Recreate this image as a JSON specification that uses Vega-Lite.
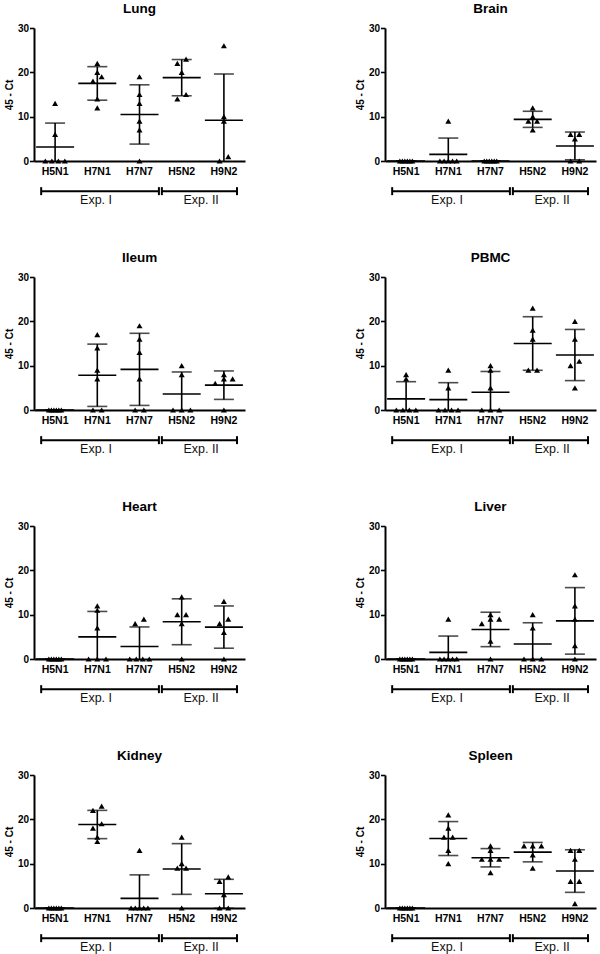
{
"$schema": "https://vega.github.io/schema/vega-lite/v6.json",
"padding": {"left": 4, "top": 1, "right": 5, "bottom": 5},
"datasets": {
"pts": [
{"organ":"Lung","strain":"H5N1","v":0},{"organ":"Lung","strain":"H5N1","v":0},{"organ":"Lung","strain":"H5N1","v":0},{"organ":"Lung","strain":"H5N1","v":0},{"organ":"Lung","strain":"H5N1","v":6},{"organ":"Lung","strain":"H5N1","v":13},
{"organ":"Lung","strain":"H7N1","v":22},{"organ":"Lung","strain":"H7N1","v":20},{"organ":"Lung","strain":"H7N1","v":19},{"organ":"Lung","strain":"H7N1","v":18},{"organ":"Lung","strain":"H7N1","v":14},{"organ":"Lung","strain":"H7N1","v":12},
{"organ":"Lung","strain":"H7N7","v":19},{"organ":"Lung","strain":"H7N7","v":15},{"organ":"Lung","strain":"H7N7","v":13},{"organ":"Lung","strain":"H7N7","v":9},{"organ":"Lung","strain":"H7N7","v":7},{"organ":"Lung","strain":"H7N7","v":0},
{"organ":"Lung","strain":"H5N2","v":23},{"organ":"Lung","strain":"H5N2","v":22},{"organ":"Lung","strain":"H5N2","v":20},{"organ":"Lung","strain":"H5N2","v":15},{"organ":"Lung","strain":"H5N2","v":14},
{"organ":"Lung","strain":"H9N2","v":26},{"organ":"Lung","strain":"H9N2","v":10},{"organ":"Lung","strain":"H9N2","v":9},{"organ":"Lung","strain":"H9N2","v":1},{"organ":"Lung","strain":"H9N2","v":0},
{"organ":"Brain","strain":"H5N1","v":0},{"organ":"Brain","strain":"H5N1","v":0},{"organ":"Brain","strain":"H5N1","v":0},{"organ":"Brain","strain":"H5N1","v":0},{"organ":"Brain","strain":"H5N1","v":0},{"organ":"Brain","strain":"H5N1","v":0},
{"organ":"Brain","strain":"H7N1","v":9},{"organ":"Brain","strain":"H7N1","v":0},{"organ":"Brain","strain":"H7N1","v":0},{"organ":"Brain","strain":"H7N1","v":0},{"organ":"Brain","strain":"H7N1","v":0},{"organ":"Brain","strain":"H7N1","v":0},
{"organ":"Brain","strain":"H7N7","v":0},{"organ":"Brain","strain":"H7N7","v":0},{"organ":"Brain","strain":"H7N7","v":0},{"organ":"Brain","strain":"H7N7","v":0},{"organ":"Brain","strain":"H7N7","v":0},{"organ":"Brain","strain":"H7N7","v":0},
{"organ":"Brain","strain":"H5N2","v":12},{"organ":"Brain","strain":"H5N2","v":10},{"organ":"Brain","strain":"H5N2","v":9},{"organ":"Brain","strain":"H5N2","v":9},{"organ":"Brain","strain":"H5N2","v":7},
{"organ":"Brain","strain":"H9N2","v":6},{"organ":"Brain","strain":"H9N2","v":6},{"organ":"Brain","strain":"H9N2","v":5},{"organ":"Brain","strain":"H9N2","v":0},{"organ":"Brain","strain":"H9N2","v":0},
{"organ":"Ileum","strain":"H5N1","v":0},{"organ":"Ileum","strain":"H5N1","v":0},{"organ":"Ileum","strain":"H5N1","v":0},{"organ":"Ileum","strain":"H5N1","v":0},{"organ":"Ileum","strain":"H5N1","v":0},{"organ":"Ileum","strain":"H5N1","v":0},
{"organ":"Ileum","strain":"H7N1","v":17},{"organ":"Ileum","strain":"H7N1","v":14},{"organ":"Ileum","strain":"H7N1","v":9},{"organ":"Ileum","strain":"H7N1","v":7},{"organ":"Ileum","strain":"H7N1","v":0},{"organ":"Ileum","strain":"H7N1","v":0},
{"organ":"Ileum","strain":"H7N7","v":19},{"organ":"Ileum","strain":"H7N7","v":16},{"organ":"Ileum","strain":"H7N7","v":13},{"organ":"Ileum","strain":"H7N7","v":7},{"organ":"Ileum","strain":"H7N7","v":0},{"organ":"Ileum","strain":"H7N7","v":0},
{"organ":"Ileum","strain":"H5N2","v":10},{"organ":"Ileum","strain":"H5N2","v":8},{"organ":"Ileum","strain":"H5N2","v":0},{"organ":"Ileum","strain":"H5N2","v":0},{"organ":"Ileum","strain":"H5N2","v":0},
{"organ":"Ileum","strain":"H9N2","v":8},{"organ":"Ileum","strain":"H9N2","v":7},{"organ":"Ileum","strain":"H9N2","v":7},{"organ":"Ileum","strain":"H9N2","v":6},{"organ":"Ileum","strain":"H9N2","v":0},
{"organ":"PBMC","strain":"H5N1","v":8},{"organ":"PBMC","strain":"H5N1","v":7},{"organ":"PBMC","strain":"H5N1","v":0},{"organ":"PBMC","strain":"H5N1","v":0},{"organ":"PBMC","strain":"H5N1","v":0},{"organ":"PBMC","strain":"H5N1","v":0},
{"organ":"PBMC","strain":"H7N1","v":9},{"organ":"PBMC","strain":"H7N1","v":5},{"organ":"PBMC","strain":"H7N1","v":0},{"organ":"PBMC","strain":"H7N1","v":0},{"organ":"PBMC","strain":"H7N1","v":0},{"organ":"PBMC","strain":"H7N1","v":0},
{"organ":"PBMC","strain":"H7N7","v":10},{"organ":"PBMC","strain":"H7N7","v":9},{"organ":"PBMC","strain":"H7N7","v":5},{"organ":"PBMC","strain":"H7N7","v":0},{"organ":"PBMC","strain":"H7N7","v":0},{"organ":"PBMC","strain":"H7N7","v":0},
{"organ":"PBMC","strain":"H5N2","v":23},{"organ":"PBMC","strain":"H5N2","v":18},{"organ":"PBMC","strain":"H5N2","v":16},{"organ":"PBMC","strain":"H5N2","v":9},{"organ":"PBMC","strain":"H5N2","v":9},
{"organ":"PBMC","strain":"H9N2","v":20},{"organ":"PBMC","strain":"H9N2","v":16},{"organ":"PBMC","strain":"H9N2","v":11},{"organ":"PBMC","strain":"H9N2","v":10},{"organ":"PBMC","strain":"H9N2","v":5},
{"organ":"Heart","strain":"H5N1","v":0},{"organ":"Heart","strain":"H5N1","v":0},{"organ":"Heart","strain":"H5N1","v":0},{"organ":"Heart","strain":"H5N1","v":0},{"organ":"Heart","strain":"H5N1","v":0},{"organ":"Heart","strain":"H5N1","v":0},
{"organ":"Heart","strain":"H7N1","v":12},{"organ":"Heart","strain":"H7N1","v":11},{"organ":"Heart","strain":"H7N1","v":7},{"organ":"Heart","strain":"H7N1","v":0},{"organ":"Heart","strain":"H7N1","v":0},{"organ":"Heart","strain":"H7N1","v":0},
{"organ":"Heart","strain":"H7N7","v":9},{"organ":"Heart","strain":"H7N7","v":8},{"organ":"Heart","strain":"H7N7","v":0},{"organ":"Heart","strain":"H7N7","v":0},{"organ":"Heart","strain":"H7N7","v":0},{"organ":"Heart","strain":"H7N7","v":0},
{"organ":"Heart","strain":"H5N2","v":14},{"organ":"Heart","strain":"H5N2","v":10},{"organ":"Heart","strain":"H5N2","v":10},{"organ":"Heart","strain":"H5N2","v":8},{"organ":"Heart","strain":"H5N2","v":0},
{"organ":"Heart","strain":"H9N2","v":13},{"organ":"Heart","strain":"H9N2","v":9},{"organ":"Heart","strain":"H9N2","v":8},{"organ":"Heart","strain":"H9N2","v":6},{"organ":"Heart","strain":"H9N2","v":0},
{"organ":"Liver","strain":"H5N1","v":0},{"organ":"Liver","strain":"H5N1","v":0},{"organ":"Liver","strain":"H5N1","v":0},{"organ":"Liver","strain":"H5N1","v":0},{"organ":"Liver","strain":"H5N1","v":0},{"organ":"Liver","strain":"H5N1","v":0},
{"organ":"Liver","strain":"H7N1","v":9},{"organ":"Liver","strain":"H7N1","v":0},{"organ":"Liver","strain":"H7N1","v":0},{"organ":"Liver","strain":"H7N1","v":0},{"organ":"Liver","strain":"H7N1","v":0},{"organ":"Liver","strain":"H7N1","v":0},
{"organ":"Liver","strain":"H7N7","v":10},{"organ":"Liver","strain":"H7N7","v":9},{"organ":"Liver","strain":"H7N7","v":9},{"organ":"Liver","strain":"H7N7","v":8},{"organ":"Liver","strain":"H7N7","v":4},{"organ":"Liver","strain":"H7N7","v":0},
{"organ":"Liver","strain":"H5N2","v":10},{"organ":"Liver","strain":"H5N2","v":7},{"organ":"Liver","strain":"H5N2","v":0},{"organ":"Liver","strain":"H5N2","v":0},{"organ":"Liver","strain":"H5N2","v":0},
{"organ":"Liver","strain":"H9N2","v":19},{"organ":"Liver","strain":"H9N2","v":12},{"organ":"Liver","strain":"H9N2","v":9},{"organ":"Liver","strain":"H9N2","v":3},{"organ":"Liver","strain":"H9N2","v":0},
{"organ":"Kidney","strain":"H5N1","v":0},{"organ":"Kidney","strain":"H5N1","v":0},{"organ":"Kidney","strain":"H5N1","v":0},{"organ":"Kidney","strain":"H5N1","v":0},{"organ":"Kidney","strain":"H5N1","v":0},{"organ":"Kidney","strain":"H5N1","v":0},
{"organ":"Kidney","strain":"H7N1","v":23},{"organ":"Kidney","strain":"H7N1","v":22},{"organ":"Kidney","strain":"H7N1","v":19},{"organ":"Kidney","strain":"H7N1","v":18},{"organ":"Kidney","strain":"H7N1","v":16},{"organ":"Kidney","strain":"H7N1","v":15},
{"organ":"Kidney","strain":"H7N7","v":13},{"organ":"Kidney","strain":"H7N7","v":0},{"organ":"Kidney","strain":"H7N7","v":0},{"organ":"Kidney","strain":"H7N7","v":0},{"organ":"Kidney","strain":"H7N7","v":0},{"organ":"Kidney","strain":"H7N7","v":0},
{"organ":"Kidney","strain":"H5N2","v":16},{"organ":"Kidney","strain":"H5N2","v":10},{"organ":"Kidney","strain":"H5N2","v":9},{"organ":"Kidney","strain":"H5N2","v":9},{"organ":"Kidney","strain":"H5N2","v":0},
{"organ":"Kidney","strain":"H9N2","v":7},{"organ":"Kidney","strain":"H9N2","v":6},{"organ":"Kidney","strain":"H9N2","v":3},{"organ":"Kidney","strain":"H9N2","v":0},{"organ":"Kidney","strain":"H9N2","v":0},
{"organ":"Spleen","strain":"H5N1","v":0},{"organ":"Spleen","strain":"H5N1","v":0},{"organ":"Spleen","strain":"H5N1","v":0},{"organ":"Spleen","strain":"H5N1","v":0},{"organ":"Spleen","strain":"H5N1","v":0},{"organ":"Spleen","strain":"H5N1","v":0},
{"organ":"Spleen","strain":"H7N1","v":21},{"organ":"Spleen","strain":"H7N1","v":18},{"organ":"Spleen","strain":"H7N1","v":16},{"organ":"Spleen","strain":"H7N1","v":16},{"organ":"Spleen","strain":"H7N1","v":13},{"organ":"Spleen","strain":"H7N1","v":10},
{"organ":"Spleen","strain":"H7N7","v":14},{"organ":"Spleen","strain":"H7N7","v":13},{"organ":"Spleen","strain":"H7N7","v":11},{"organ":"Spleen","strain":"H7N7","v":11},{"organ":"Spleen","strain":"H7N7","v":11},{"organ":"Spleen","strain":"H7N7","v":8},
{"organ":"Spleen","strain":"H5N2","v":14},{"organ":"Spleen","strain":"H5N2","v":14},{"organ":"Spleen","strain":"H5N2","v":14},{"organ":"Spleen","strain":"H5N2","v":12},{"organ":"Spleen","strain":"H5N2","v":9},
{"organ":"Spleen","strain":"H9N2","v":13},{"organ":"Spleen","strain":"H9N2","v":13},{"organ":"Spleen","strain":"H9N2","v":11},{"organ":"Spleen","strain":"H9N2","v":6},{"organ":"Spleen","strain":"H9N2","v":6},{"organ":"Spleen","strain":"H9N2","v":1}
],
"brk": [
{"exp":"Exp. I","from":"H5N1","to":"H7N7","mid":"H7N1"},
{"exp":"Exp. II","from":"H5N2","to":"H9N2","mid":"H9N2"}
]
},
"data": {"name": "pts"},
"transform": [
{"bin": {"step": 2}, "field": "v", "as": ["vb", "vb_end"]},
{"window": [{"op": "row_number", "as": "r"}], "groupby": ["organ", "strain", "vb"], "sort": [{"field": "v", "order": "ascending"}]},
{"joinaggregate": [{"op": "count", "as": "n"}], "groupby": ["organ", "strain", "vb"]},
{"calculate": "(datum.r - (datum.n + 1) / 2) * (datum.n <= 3 ? 8.7 : datum.n == 4 ? 6.5 : datum.n == 5 ? 4.2 : 2.5)", "as": "dx"}
],
"columns": 2,
"spacing": {"row": 116, "column": 140},
"bounds": "flush",
"concat": [
{"title":"Lung","width":211,"height":133,"layer":[
{"transform":[{"filter":"datum.organ == 'Lung'"}],"layer":[
{"mark":{"type":"errorbar","extent":"stdev","ticks":{"size":20},"thickness":1.6,"color":"black","clip":true},"encoding":{"x":{"field":"strain","type":"nominal","scale":{"domain":["H5N1","H7N1","H7N7","H5N2","H9N2"],"paddingInner":0,"paddingOuter":0},"title":null},"y":{"field":"v","type":"quantitative","scale":{"domain":[0,30]},"title":"45 - Ct"}}},
{"mark":{"type":"tick","size":38,"thickness":1.6,"color":"black"},"encoding":{"x":{"field":"strain","type":"nominal","scale":{"domain":["H5N1","H7N1","H7N7","H5N2","H9N2"],"paddingInner":0,"paddingOuter":0},"title":null},"y":{"aggregate":"mean","field":"v","type":"quantitative","scale":{"domain":[0,30]},"title":"45 - Ct"}}},
{"mark":{"type":"point","shape":"triangle-up","filled":true,"size":36,"color":"black","opacity":1},"encoding":{"x":{"field":"strain","type":"nominal","scale":{"domain":["H5N1","H7N1","H7N7","H5N2","H9N2"],"paddingInner":0,"paddingOuter":0},"title":null},"xOffset":{"field":"dx","type":"quantitative","scale":{"domain":[-21.1,21.1],"range":[0,42.2]}},"y":{"field":"v","type":"quantitative","scale":{"domain":[0,30]},"title":"45 - Ct"}}}
]},
{"data":{"name":"brk"},"layer":[
{"transform":[{"filter":"datum.exp == 'Exp. I'"}],"layer":[
{"mark":"rule","encoding":{"x":{"field":"from","type":"nominal","bandPosition":0.17,"scale":{"domain":["H5N1","H7N1","H7N7","H5N2","H9N2"],"paddingInner":0,"paddingOuter":0},"title":null},"x2":{"field":"to","bandPosition":0.96},"y":{"datum":-6.8,"type":"quantitative","scale":{"domain":[0,30]},"title":"45 - Ct"}}},
{"mark":"rule","encoding":{"x":{"field":"from","type":"nominal","bandPosition":0.17,"scale":{"domain":["H5N1","H7N1","H7N7","H5N2","H9N2"],"paddingInner":0,"paddingOuter":0},"title":null},"y":{"datum":-5.9,"type":"quantitative","scale":{"domain":[0,30]},"title":"45 - Ct"},"y2":{"datum":-7.7}}},
{"mark":"rule","encoding":{"x":{"field":"to","type":"nominal","bandPosition":0.96,"scale":{"domain":["H5N1","H7N1","H7N7","H5N2","H9N2"],"paddingInner":0,"paddingOuter":0},"title":null},"y":{"datum":-5.9,"type":"quantitative","scale":{"domain":[0,30]},"title":"45 - Ct"},"y2":{"datum":-7.7}}},
{"mark":"text","encoding":{"x":{"field":"mid","type":"nominal","bandPosition":0.47,"scale":{"domain":["H5N1","H7N1","H7N7","H5N2","H9N2"],"paddingInner":0,"paddingOuter":0},"title":null},"y":{"datum":-8.7,"type":"quantitative","scale":{"domain":[0,30]},"title":"45 - Ct"},"text":{"field":"exp"}}}
]},
{"transform":[{"filter":"datum.exp == 'Exp. II'"}],"layer":[
{"mark":"rule","encoding":{"x":{"field":"from","type":"nominal","bandPosition":0.03,"scale":{"domain":["H5N1","H7N1","H7N7","H5N2","H9N2"],"paddingInner":0,"paddingOuter":0},"title":null},"x2":{"field":"to","bandPosition":0.81},"y":{"datum":-6.8,"type":"quantitative","scale":{"domain":[0,30]},"title":"45 - Ct"}}},
{"mark":"rule","encoding":{"x":{"field":"from","type":"nominal","bandPosition":0.03,"scale":{"domain":["H5N1","H7N1","H7N7","H5N2","H9N2"],"paddingInner":0,"paddingOuter":0},"title":null},"y":{"datum":-5.9,"type":"quantitative","scale":{"domain":[0,30]},"title":"45 - Ct"},"y2":{"datum":-7.7}}},
{"mark":"rule","encoding":{"x":{"field":"to","type":"nominal","bandPosition":0.81,"scale":{"domain":["H5N1","H7N1","H7N7","H5N2","H9N2"],"paddingInner":0,"paddingOuter":0},"title":null},"y":{"datum":-5.9,"type":"quantitative","scale":{"domain":[0,30]},"title":"45 - Ct"},"y2":{"datum":-7.7}}},
{"mark":"text","encoding":{"x":{"field":"mid","type":"nominal","bandPosition":-0.04,"scale":{"domain":["H5N1","H7N1","H7N7","H5N2","H9N2"],"paddingInner":0,"paddingOuter":0},"title":null},"y":{"datum":-8.7,"type":"quantitative","scale":{"domain":[0,30]},"title":"45 - Ct"},"text":{"field":"exp"}}}
]}
]}
]},
{"title":"Brain","width":211,"height":133,"layer":[
{"transform":[{"filter":"datum.organ == 'Brain'"}],"layer":[
{"mark":{"type":"errorbar","extent":"stdev","ticks":{"size":20},"thickness":1.6,"color":"black","clip":true},"encoding":{"x":{"field":"strain","type":"nominal","scale":{"domain":["H5N1","H7N1","H7N7","H5N2","H9N2"],"paddingInner":0,"paddingOuter":0},"title":null},"y":{"field":"v","type":"quantitative","scale":{"domain":[0,30]},"title":"45 - Ct"}}},
{"mark":{"type":"tick","size":38,"thickness":1.6,"color":"black"},"encoding":{"x":{"field":"strain","type":"nominal","scale":{"domain":["H5N1","H7N1","H7N7","H5N2","H9N2"],"paddingInner":0,"paddingOuter":0},"title":null},"y":{"aggregate":"mean","field":"v","type":"quantitative","scale":{"domain":[0,30]},"title":"45 - Ct"}}},
{"mark":{"type":"point","shape":"triangle-up","filled":true,"size":36,"color":"black","opacity":1},"encoding":{"x":{"field":"strain","type":"nominal","scale":{"domain":["H5N1","H7N1","H7N7","H5N2","H9N2"],"paddingInner":0,"paddingOuter":0},"title":null},"xOffset":{"field":"dx","type":"quantitative","scale":{"domain":[-21.1,21.1],"range":[0,42.2]}},"y":{"field":"v","type":"quantitative","scale":{"domain":[0,30]},"title":"45 - Ct"}}}
]},
{"data":{"name":"brk"},"layer":[
{"transform":[{"filter":"datum.exp == 'Exp. I'"}],"layer":[
{"mark":"rule","encoding":{"x":{"field":"from","type":"nominal","bandPosition":0.17,"scale":{"domain":["H5N1","H7N1","H7N7","H5N2","H9N2"],"paddingInner":0,"paddingOuter":0},"title":null},"x2":{"field":"to","bandPosition":0.96},"y":{"datum":-6.8,"type":"quantitative","scale":{"domain":[0,30]},"title":"45 - Ct"}}},
{"mark":"rule","encoding":{"x":{"field":"from","type":"nominal","bandPosition":0.17,"scale":{"domain":["H5N1","H7N1","H7N7","H5N2","H9N2"],"paddingInner":0,"paddingOuter":0},"title":null},"y":{"datum":-5.9,"type":"quantitative","scale":{"domain":[0,30]},"title":"45 - Ct"},"y2":{"datum":-7.7}}},
{"mark":"rule","encoding":{"x":{"field":"to","type":"nominal","bandPosition":0.96,"scale":{"domain":["H5N1","H7N1","H7N7","H5N2","H9N2"],"paddingInner":0,"paddingOuter":0},"title":null},"y":{"datum":-5.9,"type":"quantitative","scale":{"domain":[0,30]},"title":"45 - Ct"},"y2":{"datum":-7.7}}},
{"mark":"text","encoding":{"x":{"field":"mid","type":"nominal","bandPosition":0.47,"scale":{"domain":["H5N1","H7N1","H7N7","H5N2","H9N2"],"paddingInner":0,"paddingOuter":0},"title":null},"y":{"datum":-8.7,"type":"quantitative","scale":{"domain":[0,30]},"title":"45 - Ct"},"text":{"field":"exp"}}}
]},
{"transform":[{"filter":"datum.exp == 'Exp. II'"}],"layer":[
{"mark":"rule","encoding":{"x":{"field":"from","type":"nominal","bandPosition":0.03,"scale":{"domain":["H5N1","H7N1","H7N7","H5N2","H9N2"],"paddingInner":0,"paddingOuter":0},"title":null},"x2":{"field":"to","bandPosition":0.81},"y":{"datum":-6.8,"type":"quantitative","scale":{"domain":[0,30]},"title":"45 - Ct"}}},
{"mark":"rule","encoding":{"x":{"field":"from","type":"nominal","bandPosition":0.03,"scale":{"domain":["H5N1","H7N1","H7N7","H5N2","H9N2"],"paddingInner":0,"paddingOuter":0},"title":null},"y":{"datum":-5.9,"type":"quantitative","scale":{"domain":[0,30]},"title":"45 - Ct"},"y2":{"datum":-7.7}}},
{"mark":"rule","encoding":{"x":{"field":"to","type":"nominal","bandPosition":0.81,"scale":{"domain":["H5N1","H7N1","H7N7","H5N2","H9N2"],"paddingInner":0,"paddingOuter":0},"title":null},"y":{"datum":-5.9,"type":"quantitative","scale":{"domain":[0,30]},"title":"45 - Ct"},"y2":{"datum":-7.7}}},
{"mark":"text","encoding":{"x":{"field":"mid","type":"nominal","bandPosition":-0.04,"scale":{"domain":["H5N1","H7N1","H7N7","H5N2","H9N2"],"paddingInner":0,"paddingOuter":0},"title":null},"y":{"datum":-8.7,"type":"quantitative","scale":{"domain":[0,30]},"title":"45 - Ct"},"text":{"field":"exp"}}}
]}
]}
]},
{"title":"Ileum","width":211,"height":133,"layer":[
{"transform":[{"filter":"datum.organ == 'Ileum'"}],"layer":[
{"mark":{"type":"errorbar","extent":"stdev","ticks":{"size":20},"thickness":1.6,"color":"black","clip":true},"encoding":{"x":{"field":"strain","type":"nominal","scale":{"domain":["H5N1","H7N1","H7N7","H5N2","H9N2"],"paddingInner":0,"paddingOuter":0},"title":null},"y":{"field":"v","type":"quantitative","scale":{"domain":[0,30]},"title":"45 - Ct"}}},
{"mark":{"type":"tick","size":38,"thickness":1.6,"color":"black"},"encoding":{"x":{"field":"strain","type":"nominal","scale":{"domain":["H5N1","H7N1","H7N7","H5N2","H9N2"],"paddingInner":0,"paddingOuter":0},"title":null},"y":{"aggregate":"mean","field":"v","type":"quantitative","scale":{"domain":[0,30]},"title":"45 - Ct"}}},
{"mark":{"type":"point","shape":"triangle-up","filled":true,"size":36,"color":"black","opacity":1},"encoding":{"x":{"field":"strain","type":"nominal","scale":{"domain":["H5N1","H7N1","H7N7","H5N2","H9N2"],"paddingInner":0,"paddingOuter":0},"title":null},"xOffset":{"field":"dx","type":"quantitative","scale":{"domain":[-21.1,21.1],"range":[0,42.2]}},"y":{"field":"v","type":"quantitative","scale":{"domain":[0,30]},"title":"45 - Ct"}}}
]},
{"data":{"name":"brk"},"layer":[
{"transform":[{"filter":"datum.exp == 'Exp. I'"}],"layer":[
{"mark":"rule","encoding":{"x":{"field":"from","type":"nominal","bandPosition":0.17,"scale":{"domain":["H5N1","H7N1","H7N7","H5N2","H9N2"],"paddingInner":0,"paddingOuter":0},"title":null},"x2":{"field":"to","bandPosition":0.96},"y":{"datum":-6.8,"type":"quantitative","scale":{"domain":[0,30]},"title":"45 - Ct"}}},
{"mark":"rule","encoding":{"x":{"field":"from","type":"nominal","bandPosition":0.17,"scale":{"domain":["H5N1","H7N1","H7N7","H5N2","H9N2"],"paddingInner":0,"paddingOuter":0},"title":null},"y":{"datum":-5.9,"type":"quantitative","scale":{"domain":[0,30]},"title":"45 - Ct"},"y2":{"datum":-7.7}}},
{"mark":"rule","encoding":{"x":{"field":"to","type":"nominal","bandPosition":0.96,"scale":{"domain":["H5N1","H7N1","H7N7","H5N2","H9N2"],"paddingInner":0,"paddingOuter":0},"title":null},"y":{"datum":-5.9,"type":"quantitative","scale":{"domain":[0,30]},"title":"45 - Ct"},"y2":{"datum":-7.7}}},
{"mark":"text","encoding":{"x":{"field":"mid","type":"nominal","bandPosition":0.47,"scale":{"domain":["H5N1","H7N1","H7N7","H5N2","H9N2"],"paddingInner":0,"paddingOuter":0},"title":null},"y":{"datum":-8.7,"type":"quantitative","scale":{"domain":[0,30]},"title":"45 - Ct"},"text":{"field":"exp"}}}
]},
{"transform":[{"filter":"datum.exp == 'Exp. II'"}],"layer":[
{"mark":"rule","encoding":{"x":{"field":"from","type":"nominal","bandPosition":0.03,"scale":{"domain":["H5N1","H7N1","H7N7","H5N2","H9N2"],"paddingInner":0,"paddingOuter":0},"title":null},"x2":{"field":"to","bandPosition":0.81},"y":{"datum":-6.8,"type":"quantitative","scale":{"domain":[0,30]},"title":"45 - Ct"}}},
{"mark":"rule","encoding":{"x":{"field":"from","type":"nominal","bandPosition":0.03,"scale":{"domain":["H5N1","H7N1","H7N7","H5N2","H9N2"],"paddingInner":0,"paddingOuter":0},"title":null},"y":{"datum":-5.9,"type":"quantitative","scale":{"domain":[0,30]},"title":"45 - Ct"},"y2":{"datum":-7.7}}},
{"mark":"rule","encoding":{"x":{"field":"to","type":"nominal","bandPosition":0.81,"scale":{"domain":["H5N1","H7N1","H7N7","H5N2","H9N2"],"paddingInner":0,"paddingOuter":0},"title":null},"y":{"datum":-5.9,"type":"quantitative","scale":{"domain":[0,30]},"title":"45 - Ct"},"y2":{"datum":-7.7}}},
{"mark":"text","encoding":{"x":{"field":"mid","type":"nominal","bandPosition":-0.04,"scale":{"domain":["H5N1","H7N1","H7N7","H5N2","H9N2"],"paddingInner":0,"paddingOuter":0},"title":null},"y":{"datum":-8.7,"type":"quantitative","scale":{"domain":[0,30]},"title":"45 - Ct"},"text":{"field":"exp"}}}
]}
]}
]},
{"title":"PBMC","width":211,"height":133,"layer":[
{"transform":[{"filter":"datum.organ == 'PBMC'"}],"layer":[
{"mark":{"type":"errorbar","extent":"stdev","ticks":{"size":20},"thickness":1.6,"color":"black","clip":true},"encoding":{"x":{"field":"strain","type":"nominal","scale":{"domain":["H5N1","H7N1","H7N7","H5N2","H9N2"],"paddingInner":0,"paddingOuter":0},"title":null},"y":{"field":"v","type":"quantitative","scale":{"domain":[0,30]},"title":"45 - Ct"}}},
{"mark":{"type":"tick","size":38,"thickness":1.6,"color":"black"},"encoding":{"x":{"field":"strain","type":"nominal","scale":{"domain":["H5N1","H7N1","H7N7","H5N2","H9N2"],"paddingInner":0,"paddingOuter":0},"title":null},"y":{"aggregate":"mean","field":"v","type":"quantitative","scale":{"domain":[0,30]},"title":"45 - Ct"}}},
{"mark":{"type":"point","shape":"triangle-up","filled":true,"size":36,"color":"black","opacity":1},"encoding":{"x":{"field":"strain","type":"nominal","scale":{"domain":["H5N1","H7N1","H7N7","H5N2","H9N2"],"paddingInner":0,"paddingOuter":0},"title":null},"xOffset":{"field":"dx","type":"quantitative","scale":{"domain":[-21.1,21.1],"range":[0,42.2]}},"y":{"field":"v","type":"quantitative","scale":{"domain":[0,30]},"title":"45 - Ct"}}}
]},
{"data":{"name":"brk"},"layer":[
{"transform":[{"filter":"datum.exp == 'Exp. I'"}],"layer":[
{"mark":"rule","encoding":{"x":{"field":"from","type":"nominal","bandPosition":0.17,"scale":{"domain":["H5N1","H7N1","H7N7","H5N2","H9N2"],"paddingInner":0,"paddingOuter":0},"title":null},"x2":{"field":"to","bandPosition":0.96},"y":{"datum":-6.8,"type":"quantitative","scale":{"domain":[0,30]},"title":"45 - Ct"}}},
{"mark":"rule","encoding":{"x":{"field":"from","type":"nominal","bandPosition":0.17,"scale":{"domain":["H5N1","H7N1","H7N7","H5N2","H9N2"],"paddingInner":0,"paddingOuter":0},"title":null},"y":{"datum":-5.9,"type":"quantitative","scale":{"domain":[0,30]},"title":"45 - Ct"},"y2":{"datum":-7.7}}},
{"mark":"rule","encoding":{"x":{"field":"to","type":"nominal","bandPosition":0.96,"scale":{"domain":["H5N1","H7N1","H7N7","H5N2","H9N2"],"paddingInner":0,"paddingOuter":0},"title":null},"y":{"datum":-5.9,"type":"quantitative","scale":{"domain":[0,30]},"title":"45 - Ct"},"y2":{"datum":-7.7}}},
{"mark":"text","encoding":{"x":{"field":"mid","type":"nominal","bandPosition":0.47,"scale":{"domain":["H5N1","H7N1","H7N7","H5N2","H9N2"],"paddingInner":0,"paddingOuter":0},"title":null},"y":{"datum":-8.7,"type":"quantitative","scale":{"domain":[0,30]},"title":"45 - Ct"},"text":{"field":"exp"}}}
]},
{"transform":[{"filter":"datum.exp == 'Exp. II'"}],"layer":[
{"mark":"rule","encoding":{"x":{"field":"from","type":"nominal","bandPosition":0.03,"scale":{"domain":["H5N1","H7N1","H7N7","H5N2","H9N2"],"paddingInner":0,"paddingOuter":0},"title":null},"x2":{"field":"to","bandPosition":0.81},"y":{"datum":-6.8,"type":"quantitative","scale":{"domain":[0,30]},"title":"45 - Ct"}}},
{"mark":"rule","encoding":{"x":{"field":"from","type":"nominal","bandPosition":0.03,"scale":{"domain":["H5N1","H7N1","H7N7","H5N2","H9N2"],"paddingInner":0,"paddingOuter":0},"title":null},"y":{"datum":-5.9,"type":"quantitative","scale":{"domain":[0,30]},"title":"45 - Ct"},"y2":{"datum":-7.7}}},
{"mark":"rule","encoding":{"x":{"field":"to","type":"nominal","bandPosition":0.81,"scale":{"domain":["H5N1","H7N1","H7N7","H5N2","H9N2"],"paddingInner":0,"paddingOuter":0},"title":null},"y":{"datum":-5.9,"type":"quantitative","scale":{"domain":[0,30]},"title":"45 - Ct"},"y2":{"datum":-7.7}}},
{"mark":"text","encoding":{"x":{"field":"mid","type":"nominal","bandPosition":-0.04,"scale":{"domain":["H5N1","H7N1","H7N7","H5N2","H9N2"],"paddingInner":0,"paddingOuter":0},"title":null},"y":{"datum":-8.7,"type":"quantitative","scale":{"domain":[0,30]},"title":"45 - Ct"},"text":{"field":"exp"}}}
]}
]}
]},
{"title":"Heart","width":211,"height":133,"layer":[
{"transform":[{"filter":"datum.organ == 'Heart'"}],"layer":[
{"mark":{"type":"errorbar","extent":"stdev","ticks":{"size":20},"thickness":1.6,"color":"black","clip":true},"encoding":{"x":{"field":"strain","type":"nominal","scale":{"domain":["H5N1","H7N1","H7N7","H5N2","H9N2"],"paddingInner":0,"paddingOuter":0},"title":null},"y":{"field":"v","type":"quantitative","scale":{"domain":[0,30]},"title":"45 - Ct"}}},
{"mark":{"type":"tick","size":38,"thickness":1.6,"color":"black"},"encoding":{"x":{"field":"strain","type":"nominal","scale":{"domain":["H5N1","H7N1","H7N7","H5N2","H9N2"],"paddingInner":0,"paddingOuter":0},"title":null},"y":{"aggregate":"mean","field":"v","type":"quantitative","scale":{"domain":[0,30]},"title":"45 - Ct"}}},
{"mark":{"type":"point","shape":"triangle-up","filled":true,"size":36,"color":"black","opacity":1},"encoding":{"x":{"field":"strain","type":"nominal","scale":{"domain":["H5N1","H7N1","H7N7","H5N2","H9N2"],"paddingInner":0,"paddingOuter":0},"title":null},"xOffset":{"field":"dx","type":"quantitative","scale":{"domain":[-21.1,21.1],"range":[0,42.2]}},"y":{"field":"v","type":"quantitative","scale":{"domain":[0,30]},"title":"45 - Ct"}}}
]},
{"data":{"name":"brk"},"layer":[
{"transform":[{"filter":"datum.exp == 'Exp. I'"}],"layer":[
{"mark":"rule","encoding":{"x":{"field":"from","type":"nominal","bandPosition":0.17,"scale":{"domain":["H5N1","H7N1","H7N7","H5N2","H9N2"],"paddingInner":0,"paddingOuter":0},"title":null},"x2":{"field":"to","bandPosition":0.96},"y":{"datum":-6.8,"type":"quantitative","scale":{"domain":[0,30]},"title":"45 - Ct"}}},
{"mark":"rule","encoding":{"x":{"field":"from","type":"nominal","bandPosition":0.17,"scale":{"domain":["H5N1","H7N1","H7N7","H5N2","H9N2"],"paddingInner":0,"paddingOuter":0},"title":null},"y":{"datum":-5.9,"type":"quantitative","scale":{"domain":[0,30]},"title":"45 - Ct"},"y2":{"datum":-7.7}}},
{"mark":"rule","encoding":{"x":{"field":"to","type":"nominal","bandPosition":0.96,"scale":{"domain":["H5N1","H7N1","H7N7","H5N2","H9N2"],"paddingInner":0,"paddingOuter":0},"title":null},"y":{"datum":-5.9,"type":"quantitative","scale":{"domain":[0,30]},"title":"45 - Ct"},"y2":{"datum":-7.7}}},
{"mark":"text","encoding":{"x":{"field":"mid","type":"nominal","bandPosition":0.47,"scale":{"domain":["H5N1","H7N1","H7N7","H5N2","H9N2"],"paddingInner":0,"paddingOuter":0},"title":null},"y":{"datum":-8.7,"type":"quantitative","scale":{"domain":[0,30]},"title":"45 - Ct"},"text":{"field":"exp"}}}
]},
{"transform":[{"filter":"datum.exp == 'Exp. II'"}],"layer":[
{"mark":"rule","encoding":{"x":{"field":"from","type":"nominal","bandPosition":0.03,"scale":{"domain":["H5N1","H7N1","H7N7","H5N2","H9N2"],"paddingInner":0,"paddingOuter":0},"title":null},"x2":{"field":"to","bandPosition":0.81},"y":{"datum":-6.8,"type":"quantitative","scale":{"domain":[0,30]},"title":"45 - Ct"}}},
{"mark":"rule","encoding":{"x":{"field":"from","type":"nominal","bandPosition":0.03,"scale":{"domain":["H5N1","H7N1","H7N7","H5N2","H9N2"],"paddingInner":0,"paddingOuter":0},"title":null},"y":{"datum":-5.9,"type":"quantitative","scale":{"domain":[0,30]},"title":"45 - Ct"},"y2":{"datum":-7.7}}},
{"mark":"rule","encoding":{"x":{"field":"to","type":"nominal","bandPosition":0.81,"scale":{"domain":["H5N1","H7N1","H7N7","H5N2","H9N2"],"paddingInner":0,"paddingOuter":0},"title":null},"y":{"datum":-5.9,"type":"quantitative","scale":{"domain":[0,30]},"title":"45 - Ct"},"y2":{"datum":-7.7}}},
{"mark":"text","encoding":{"x":{"field":"mid","type":"nominal","bandPosition":-0.04,"scale":{"domain":["H5N1","H7N1","H7N7","H5N2","H9N2"],"paddingInner":0,"paddingOuter":0},"title":null},"y":{"datum":-8.7,"type":"quantitative","scale":{"domain":[0,30]},"title":"45 - Ct"},"text":{"field":"exp"}}}
]}
]}
]},
{"title":"Liver","width":211,"height":133,"layer":[
{"transform":[{"filter":"datum.organ == 'Liver'"}],"layer":[
{"mark":{"type":"errorbar","extent":"stdev","ticks":{"size":20},"thickness":1.6,"color":"black","clip":true},"encoding":{"x":{"field":"strain","type":"nominal","scale":{"domain":["H5N1","H7N1","H7N7","H5N2","H9N2"],"paddingInner":0,"paddingOuter":0},"title":null},"y":{"field":"v","type":"quantitative","scale":{"domain":[0,30]},"title":"45 - Ct"}}},
{"mark":{"type":"tick","size":38,"thickness":1.6,"color":"black"},"encoding":{"x":{"field":"strain","type":"nominal","scale":{"domain":["H5N1","H7N1","H7N7","H5N2","H9N2"],"paddingInner":0,"paddingOuter":0},"title":null},"y":{"aggregate":"mean","field":"v","type":"quantitative","scale":{"domain":[0,30]},"title":"45 - Ct"}}},
{"mark":{"type":"point","shape":"triangle-up","filled":true,"size":36,"color":"black","opacity":1},"encoding":{"x":{"field":"strain","type":"nominal","scale":{"domain":["H5N1","H7N1","H7N7","H5N2","H9N2"],"paddingInner":0,"paddingOuter":0},"title":null},"xOffset":{"field":"dx","type":"quantitative","scale":{"domain":[-21.1,21.1],"range":[0,42.2]}},"y":{"field":"v","type":"quantitative","scale":{"domain":[0,30]},"title":"45 - Ct"}}}
]},
{"data":{"name":"brk"},"layer":[
{"transform":[{"filter":"datum.exp == 'Exp. I'"}],"layer":[
{"mark":"rule","encoding":{"x":{"field":"from","type":"nominal","bandPosition":0.17,"scale":{"domain":["H5N1","H7N1","H7N7","H5N2","H9N2"],"paddingInner":0,"paddingOuter":0},"title":null},"x2":{"field":"to","bandPosition":0.96},"y":{"datum":-6.8,"type":"quantitative","scale":{"domain":[0,30]},"title":"45 - Ct"}}},
{"mark":"rule","encoding":{"x":{"field":"from","type":"nominal","bandPosition":0.17,"scale":{"domain":["H5N1","H7N1","H7N7","H5N2","H9N2"],"paddingInner":0,"paddingOuter":0},"title":null},"y":{"datum":-5.9,"type":"quantitative","scale":{"domain":[0,30]},"title":"45 - Ct"},"y2":{"datum":-7.7}}},
{"mark":"rule","encoding":{"x":{"field":"to","type":"nominal","bandPosition":0.96,"scale":{"domain":["H5N1","H7N1","H7N7","H5N2","H9N2"],"paddingInner":0,"paddingOuter":0},"title":null},"y":{"datum":-5.9,"type":"quantitative","scale":{"domain":[0,30]},"title":"45 - Ct"},"y2":{"datum":-7.7}}},
{"mark":"text","encoding":{"x":{"field":"mid","type":"nominal","bandPosition":0.47,"scale":{"domain":["H5N1","H7N1","H7N7","H5N2","H9N2"],"paddingInner":0,"paddingOuter":0},"title":null},"y":{"datum":-8.7,"type":"quantitative","scale":{"domain":[0,30]},"title":"45 - Ct"},"text":{"field":"exp"}}}
]},
{"transform":[{"filter":"datum.exp == 'Exp. II'"}],"layer":[
{"mark":"rule","encoding":{"x":{"field":"from","type":"nominal","bandPosition":0.03,"scale":{"domain":["H5N1","H7N1","H7N7","H5N2","H9N2"],"paddingInner":0,"paddingOuter":0},"title":null},"x2":{"field":"to","bandPosition":0.81},"y":{"datum":-6.8,"type":"quantitative","scale":{"domain":[0,30]},"title":"45 - Ct"}}},
{"mark":"rule","encoding":{"x":{"field":"from","type":"nominal","bandPosition":0.03,"scale":{"domain":["H5N1","H7N1","H7N7","H5N2","H9N2"],"paddingInner":0,"paddingOuter":0},"title":null},"y":{"datum":-5.9,"type":"quantitative","scale":{"domain":[0,30]},"title":"45 - Ct"},"y2":{"datum":-7.7}}},
{"mark":"rule","encoding":{"x":{"field":"to","type":"nominal","bandPosition":0.81,"scale":{"domain":["H5N1","H7N1","H7N7","H5N2","H9N2"],"paddingInner":0,"paddingOuter":0},"title":null},"y":{"datum":-5.9,"type":"quantitative","scale":{"domain":[0,30]},"title":"45 - Ct"},"y2":{"datum":-7.7}}},
{"mark":"text","encoding":{"x":{"field":"mid","type":"nominal","bandPosition":-0.04,"scale":{"domain":["H5N1","H7N1","H7N7","H5N2","H9N2"],"paddingInner":0,"paddingOuter":0},"title":null},"y":{"datum":-8.7,"type":"quantitative","scale":{"domain":[0,30]},"title":"45 - Ct"},"text":{"field":"exp"}}}
]}
]}
]},
{"title":"Kidney","width":211,"height":133,"layer":[
{"transform":[{"filter":"datum.organ == 'Kidney'"}],"layer":[
{"mark":{"type":"errorbar","extent":"stdev","ticks":{"size":20},"thickness":1.6,"color":"black","clip":true},"encoding":{"x":{"field":"strain","type":"nominal","scale":{"domain":["H5N1","H7N1","H7N7","H5N2","H9N2"],"paddingInner":0,"paddingOuter":0},"title":null},"y":{"field":"v","type":"quantitative","scale":{"domain":[0,30]},"title":"45 - Ct"}}},
{"mark":{"type":"tick","size":38,"thickness":1.6,"color":"black"},"encoding":{"x":{"field":"strain","type":"nominal","scale":{"domain":["H5N1","H7N1","H7N7","H5N2","H9N2"],"paddingInner":0,"paddingOuter":0},"title":null},"y":{"aggregate":"mean","field":"v","type":"quantitative","scale":{"domain":[0,30]},"title":"45 - Ct"}}},
{"mark":{"type":"point","shape":"triangle-up","filled":true,"size":36,"color":"black","opacity":1},"encoding":{"x":{"field":"strain","type":"nominal","scale":{"domain":["H5N1","H7N1","H7N7","H5N2","H9N2"],"paddingInner":0,"paddingOuter":0},"title":null},"xOffset":{"field":"dx","type":"quantitative","scale":{"domain":[-21.1,21.1],"range":[0,42.2]}},"y":{"field":"v","type":"quantitative","scale":{"domain":[0,30]},"title":"45 - Ct"}}}
]},
{"data":{"name":"brk"},"layer":[
{"transform":[{"filter":"datum.exp == 'Exp. I'"}],"layer":[
{"mark":"rule","encoding":{"x":{"field":"from","type":"nominal","bandPosition":0.17,"scale":{"domain":["H5N1","H7N1","H7N7","H5N2","H9N2"],"paddingInner":0,"paddingOuter":0},"title":null},"x2":{"field":"to","bandPosition":0.96},"y":{"datum":-6.8,"type":"quantitative","scale":{"domain":[0,30]},"title":"45 - Ct"}}},
{"mark":"rule","encoding":{"x":{"field":"from","type":"nominal","bandPosition":0.17,"scale":{"domain":["H5N1","H7N1","H7N7","H5N2","H9N2"],"paddingInner":0,"paddingOuter":0},"title":null},"y":{"datum":-5.9,"type":"quantitative","scale":{"domain":[0,30]},"title":"45 - Ct"},"y2":{"datum":-7.7}}},
{"mark":"rule","encoding":{"x":{"field":"to","type":"nominal","bandPosition":0.96,"scale":{"domain":["H5N1","H7N1","H7N7","H5N2","H9N2"],"paddingInner":0,"paddingOuter":0},"title":null},"y":{"datum":-5.9,"type":"quantitative","scale":{"domain":[0,30]},"title":"45 - Ct"},"y2":{"datum":-7.7}}},
{"mark":"text","encoding":{"x":{"field":"mid","type":"nominal","bandPosition":0.47,"scale":{"domain":["H5N1","H7N1","H7N7","H5N2","H9N2"],"paddingInner":0,"paddingOuter":0},"title":null},"y":{"datum":-8.7,"type":"quantitative","scale":{"domain":[0,30]},"title":"45 - Ct"},"text":{"field":"exp"}}}
]},
{"transform":[{"filter":"datum.exp == 'Exp. II'"}],"layer":[
{"mark":"rule","encoding":{"x":{"field":"from","type":"nominal","bandPosition":0.03,"scale":{"domain":["H5N1","H7N1","H7N7","H5N2","H9N2"],"paddingInner":0,"paddingOuter":0},"title":null},"x2":{"field":"to","bandPosition":0.81},"y":{"datum":-6.8,"type":"quantitative","scale":{"domain":[0,30]},"title":"45 - Ct"}}},
{"mark":"rule","encoding":{"x":{"field":"from","type":"nominal","bandPosition":0.03,"scale":{"domain":["H5N1","H7N1","H7N7","H5N2","H9N2"],"paddingInner":0,"paddingOuter":0},"title":null},"y":{"datum":-5.9,"type":"quantitative","scale":{"domain":[0,30]},"title":"45 - Ct"},"y2":{"datum":-7.7}}},
{"mark":"rule","encoding":{"x":{"field":"to","type":"nominal","bandPosition":0.81,"scale":{"domain":["H5N1","H7N1","H7N7","H5N2","H9N2"],"paddingInner":0,"paddingOuter":0},"title":null},"y":{"datum":-5.9,"type":"quantitative","scale":{"domain":[0,30]},"title":"45 - Ct"},"y2":{"datum":-7.7}}},
{"mark":"text","encoding":{"x":{"field":"mid","type":"nominal","bandPosition":-0.04,"scale":{"domain":["H5N1","H7N1","H7N7","H5N2","H9N2"],"paddingInner":0,"paddingOuter":0},"title":null},"y":{"datum":-8.7,"type":"quantitative","scale":{"domain":[0,30]},"title":"45 - Ct"},"text":{"field":"exp"}}}
]}
]}
]},
{"title":"Spleen","width":211,"height":133,"layer":[
{"transform":[{"filter":"datum.organ == 'Spleen'"}],"layer":[
{"mark":{"type":"errorbar","extent":"stdev","ticks":{"size":20},"thickness":1.6,"color":"black","clip":true},"encoding":{"x":{"field":"strain","type":"nominal","scale":{"domain":["H5N1","H7N1","H7N7","H5N2","H9N2"],"paddingInner":0,"paddingOuter":0},"title":null},"y":{"field":"v","type":"quantitative","scale":{"domain":[0,30]},"title":"45 - Ct"}}},
{"mark":{"type":"tick","size":38,"thickness":1.6,"color":"black"},"encoding":{"x":{"field":"strain","type":"nominal","scale":{"domain":["H5N1","H7N1","H7N7","H5N2","H9N2"],"paddingInner":0,"paddingOuter":0},"title":null},"y":{"aggregate":"mean","field":"v","type":"quantitative","scale":{"domain":[0,30]},"title":"45 - Ct"}}},
{"mark":{"type":"point","shape":"triangle-up","filled":true,"size":36,"color":"black","opacity":1},"encoding":{"x":{"field":"strain","type":"nominal","scale":{"domain":["H5N1","H7N1","H7N7","H5N2","H9N2"],"paddingInner":0,"paddingOuter":0},"title":null},"xOffset":{"field":"dx","type":"quantitative","scale":{"domain":[-21.1,21.1],"range":[0,42.2]}},"y":{"field":"v","type":"quantitative","scale":{"domain":[0,30]},"title":"45 - Ct"}}}
]},
{"data":{"name":"brk"},"layer":[
{"transform":[{"filter":"datum.exp == 'Exp. I'"}],"layer":[
{"mark":"rule","encoding":{"x":{"field":"from","type":"nominal","bandPosition":0.17,"scale":{"domain":["H5N1","H7N1","H7N7","H5N2","H9N2"],"paddingInner":0,"paddingOuter":0},"title":null},"x2":{"field":"to","bandPosition":0.96},"y":{"datum":-6.8,"type":"quantitative","scale":{"domain":[0,30]},"title":"45 - Ct"}}},
{"mark":"rule","encoding":{"x":{"field":"from","type":"nominal","bandPosition":0.17,"scale":{"domain":["H5N1","H7N1","H7N7","H5N2","H9N2"],"paddingInner":0,"paddingOuter":0},"title":null},"y":{"datum":-5.9,"type":"quantitative","scale":{"domain":[0,30]},"title":"45 - Ct"},"y2":{"datum":-7.7}}},
{"mark":"rule","encoding":{"x":{"field":"to","type":"nominal","bandPosition":0.96,"scale":{"domain":["H5N1","H7N1","H7N7","H5N2","H9N2"],"paddingInner":0,"paddingOuter":0},"title":null},"y":{"datum":-5.9,"type":"quantitative","scale":{"domain":[0,30]},"title":"45 - Ct"},"y2":{"datum":-7.7}}},
{"mark":"text","encoding":{"x":{"field":"mid","type":"nominal","bandPosition":0.47,"scale":{"domain":["H5N1","H7N1","H7N7","H5N2","H9N2"],"paddingInner":0,"paddingOuter":0},"title":null},"y":{"datum":-8.7,"type":"quantitative","scale":{"domain":[0,30]},"title":"45 - Ct"},"text":{"field":"exp"}}}
]},
{"transform":[{"filter":"datum.exp == 'Exp. II'"}],"layer":[
{"mark":"rule","encoding":{"x":{"field":"from","type":"nominal","bandPosition":0.03,"scale":{"domain":["H5N1","H7N1","H7N7","H5N2","H9N2"],"paddingInner":0,"paddingOuter":0},"title":null},"x2":{"field":"to","bandPosition":0.81},"y":{"datum":-6.8,"type":"quantitative","scale":{"domain":[0,30]},"title":"45 - Ct"}}},
{"mark":"rule","encoding":{"x":{"field":"from","type":"nominal","bandPosition":0.03,"scale":{"domain":["H5N1","H7N1","H7N7","H5N2","H9N2"],"paddingInner":0,"paddingOuter":0},"title":null},"y":{"datum":-5.9,"type":"quantitative","scale":{"domain":[0,30]},"title":"45 - Ct"},"y2":{"datum":-7.7}}},
{"mark":"rule","encoding":{"x":{"field":"to","type":"nominal","bandPosition":0.81,"scale":{"domain":["H5N1","H7N1","H7N7","H5N2","H9N2"],"paddingInner":0,"paddingOuter":0},"title":null},"y":{"datum":-5.9,"type":"quantitative","scale":{"domain":[0,30]},"title":"45 - Ct"},"y2":{"datum":-7.7}}},
{"mark":"text","encoding":{"x":{"field":"mid","type":"nominal","bandPosition":-0.04,"scale":{"domain":["H5N1","H7N1","H7N7","H5N2","H9N2"],"paddingInner":0,"paddingOuter":0},"title":null},"y":{"datum":-8.7,"type":"quantitative","scale":{"domain":[0,30]},"title":"45 - Ct"},"text":{"field":"exp"}}}
]}
]}
]}
],
"config": {
"view": {"stroke": null},
"font": "Liberation Sans",
"title": {"font": "Liberation Sans", "fontSize": 13.5, "fontWeight": "bold", "color": "black", "anchor": "middle", "frame": "group", "offset": 8},
"axis": {"grid": false, "domainColor": "black", "domainWidth": 2, "tickColor": "black", "tickWidth": 1.6, "labelFont": "Liberation Sans", "labelFontWeight": "bold", "labelColor": "black", "titleFont": "Liberation Sans", "titleFontWeight": "bold", "titleColor": "black"},
"axisX": {"ticks": false, "tickSize": 0, "labelAngle": 0, "labelFontSize": 10.5, "labelPadding": 5},
"axisY": {"values": [0, 10, 20, 30], "tickSize": 4.5, "labelFontSize": 10, "labelPadding": 1, "titleFontSize": 10, "titlePadding": 3},
"rule": {"strokeWidth": 2, "color": "black"},
"text": {"font": "Liberation Sans", "fontSize": 12.5, "color": "#111", "baseline": "middle", "align": "center"}
}
}
